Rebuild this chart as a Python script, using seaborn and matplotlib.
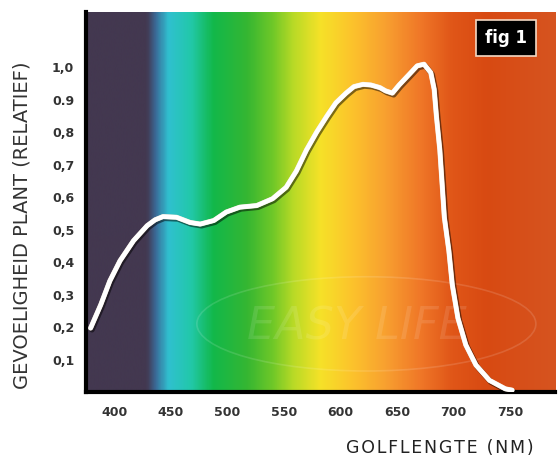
"""
plant sensitivity across the visible spectrum
"""

import numpy as np
import pandas as pd
import seaborn as sns
import matplotlib.pyplot as plt
import matplotlib.patheffects as pe
from matplotlib.colors import LinearSegmentedColormap
from matplotlib.patches import Ellipse


# data
wavelength = [379, 388, 396, 405, 417, 429, 436, 443, 455, 467, 476, 488, 499,
              511, 526, 540, 552, 561, 570, 579, 588, 596, 605, 612, 620, 627,
              635, 640, 646, 652, 661, 668, 674, 680, 683, 685, 688, 690, 692,
              696, 699, 704, 711, 720, 732, 746, 752]
sensitivity = [0.197, 0.269, 0.342, 0.404, 0.466, 0.512, 0.53, 0.54, 0.538,
               0.522, 0.517, 0.528, 0.554, 0.569, 0.574, 0.595, 0.63, 0.68,
               0.745, 0.80, 0.849, 0.89, 0.92, 0.94, 0.947, 0.945, 0.937, 0.927,
               0.92, 0.945, 0.978, 1.004, 1.009, 0.983, 0.932, 0.849, 0.745,
               0.642, 0.538, 0.435, 0.331, 0.228, 0.145, 0.083, 0.036, 0.010,
               0.006]

x_ticks = [400, 450, 500, 550, 600, 650, 700, 750]
y_ticks = [0.1, 0.2, 0.3, 0.4, 0.5, 0.6, 0.7, 0.8, 0.9, 1.0]
y_tick_labels = ["0,1", "0,2", "0,3", "0,4", "0,5", "0,6", "0,7", "0,8", "0.9", "1,0"]

# background spectrum stops
spectrum_nm = [375, 428, 436, 447, 467, 487, 517, 540, 558, 582, 611, 640, 670, 699, 729, 790]
spectrum_colors = ["#433850", "#433850", "#3a6a98", "#30c0d0", "#22c8aa", "#12b84a",
                   "#35b632", "#70c828", "#b8da26", "#f6e228", "#fcc22c", "#f8a030",
                   "#f07828", "#e05618", "#d84a12", "#d65420"]


# configurations
sns.set_style("white")
plt.rcParams["font.family"] = "DejaVu Sans"

x_min, x_max = 375, 790
y_min, y_max = 0, 1.17

df = pd.DataFrame({"wavelength": wavelength, "sensitivity": sensitivity})

# instantiate
fig = plt.figure(figsize=(5.59, 4.57), dpi=100)
ax = fig.add_axes([0.154, 0.142, 0.839, 0.832])

# spectrum background
stops = [(nm - x_min) / (x_max - x_min) for nm in spectrum_nm]
cmap = LinearSegmentedColormap.from_list("spectrum", list(zip(stops, spectrum_colors)))
grad = np.linspace(0, 1, 800).reshape(1, -1)
ax.imshow(grad, cmap=cmap, aspect="auto", extent=[x_min, x_max, y_min, y_max],
          interpolation="bicubic", zorder=0)

# faint watermark
ax.add_patch(Ellipse((623, 0.21), 300, 0.29, fill=False, edgecolor="white",
                     alpha=0.13, linewidth=1.2, zorder=1))
ax.text(615, 0.2, "EASY LIFE", fontsize=32, color="white", alpha=0.11,
        ha="center", va="center", style="italic", zorder=1)

# sensitivity curve
sns.lineplot(data=df, x="wavelength", y="sensitivity", color="white", linewidth=3.2,
             ax=ax, zorder=3, sort=False,
             path_effects=[pe.SimpleLineShadow(offset=(1.0, -1.2), shadow_color="black",
                                               alpha=0.5, linewidth=4.0),
                           pe.Stroke(linewidth=3.6, foreground="#efe6d6"),
                           pe.Normal()])
ax.lines[-1].set_solid_capstyle("round")
ax.lines[-1].set_solid_joinstyle("round")

# polish
ax.set_xlim(x_min, x_max)
ax.set_ylim(y_min, y_max)
ax.set_xticks(x_ticks)
ax.set_yticks(y_ticks)
ax.set_yticklabels(y_tick_labels)
ax.tick_params(axis="both", direction="out", length=5, width=2, color="black",
               labelsize=9, labelcolor="#333333")
ax.tick_params(axis="x", pad=5)
for label in ax.get_xticklabels() + ax.get_yticklabels():
    label.set_fontweight("bold")

for side in ["top", "right"]:
    ax.spines[side].set_visible(False)
for side in ["left", "bottom"]:
    ax.spines[side].set_color("black")
    ax.spines[side].set_linewidth(3)

ax.set_xlabel("")
ax.set_ylabel("")
fig.text(0.787, 0.02, "\u200a".join("GOLFLENGTE (NM)"), fontsize=12.5, color="#222222",
         ha="center", va="center")
fig.text(0.039, 0.508, "GEVOELIGHEID PLANT (RELATIEF)", rotation=90, fontsize=14,
         color="#333333", ha="center", va="center")

# figure badge
fig.text(0.905, 0.917, "fig 1", fontsize=12, fontweight="bold", color="white",
         ha="center", va="center",
         bbox=dict(boxstyle="square,pad=0.55", facecolor="black", edgecolor="#f3d9c4",
                   linewidth=1.2))

plt.savefig("out.png", dpi=100)
